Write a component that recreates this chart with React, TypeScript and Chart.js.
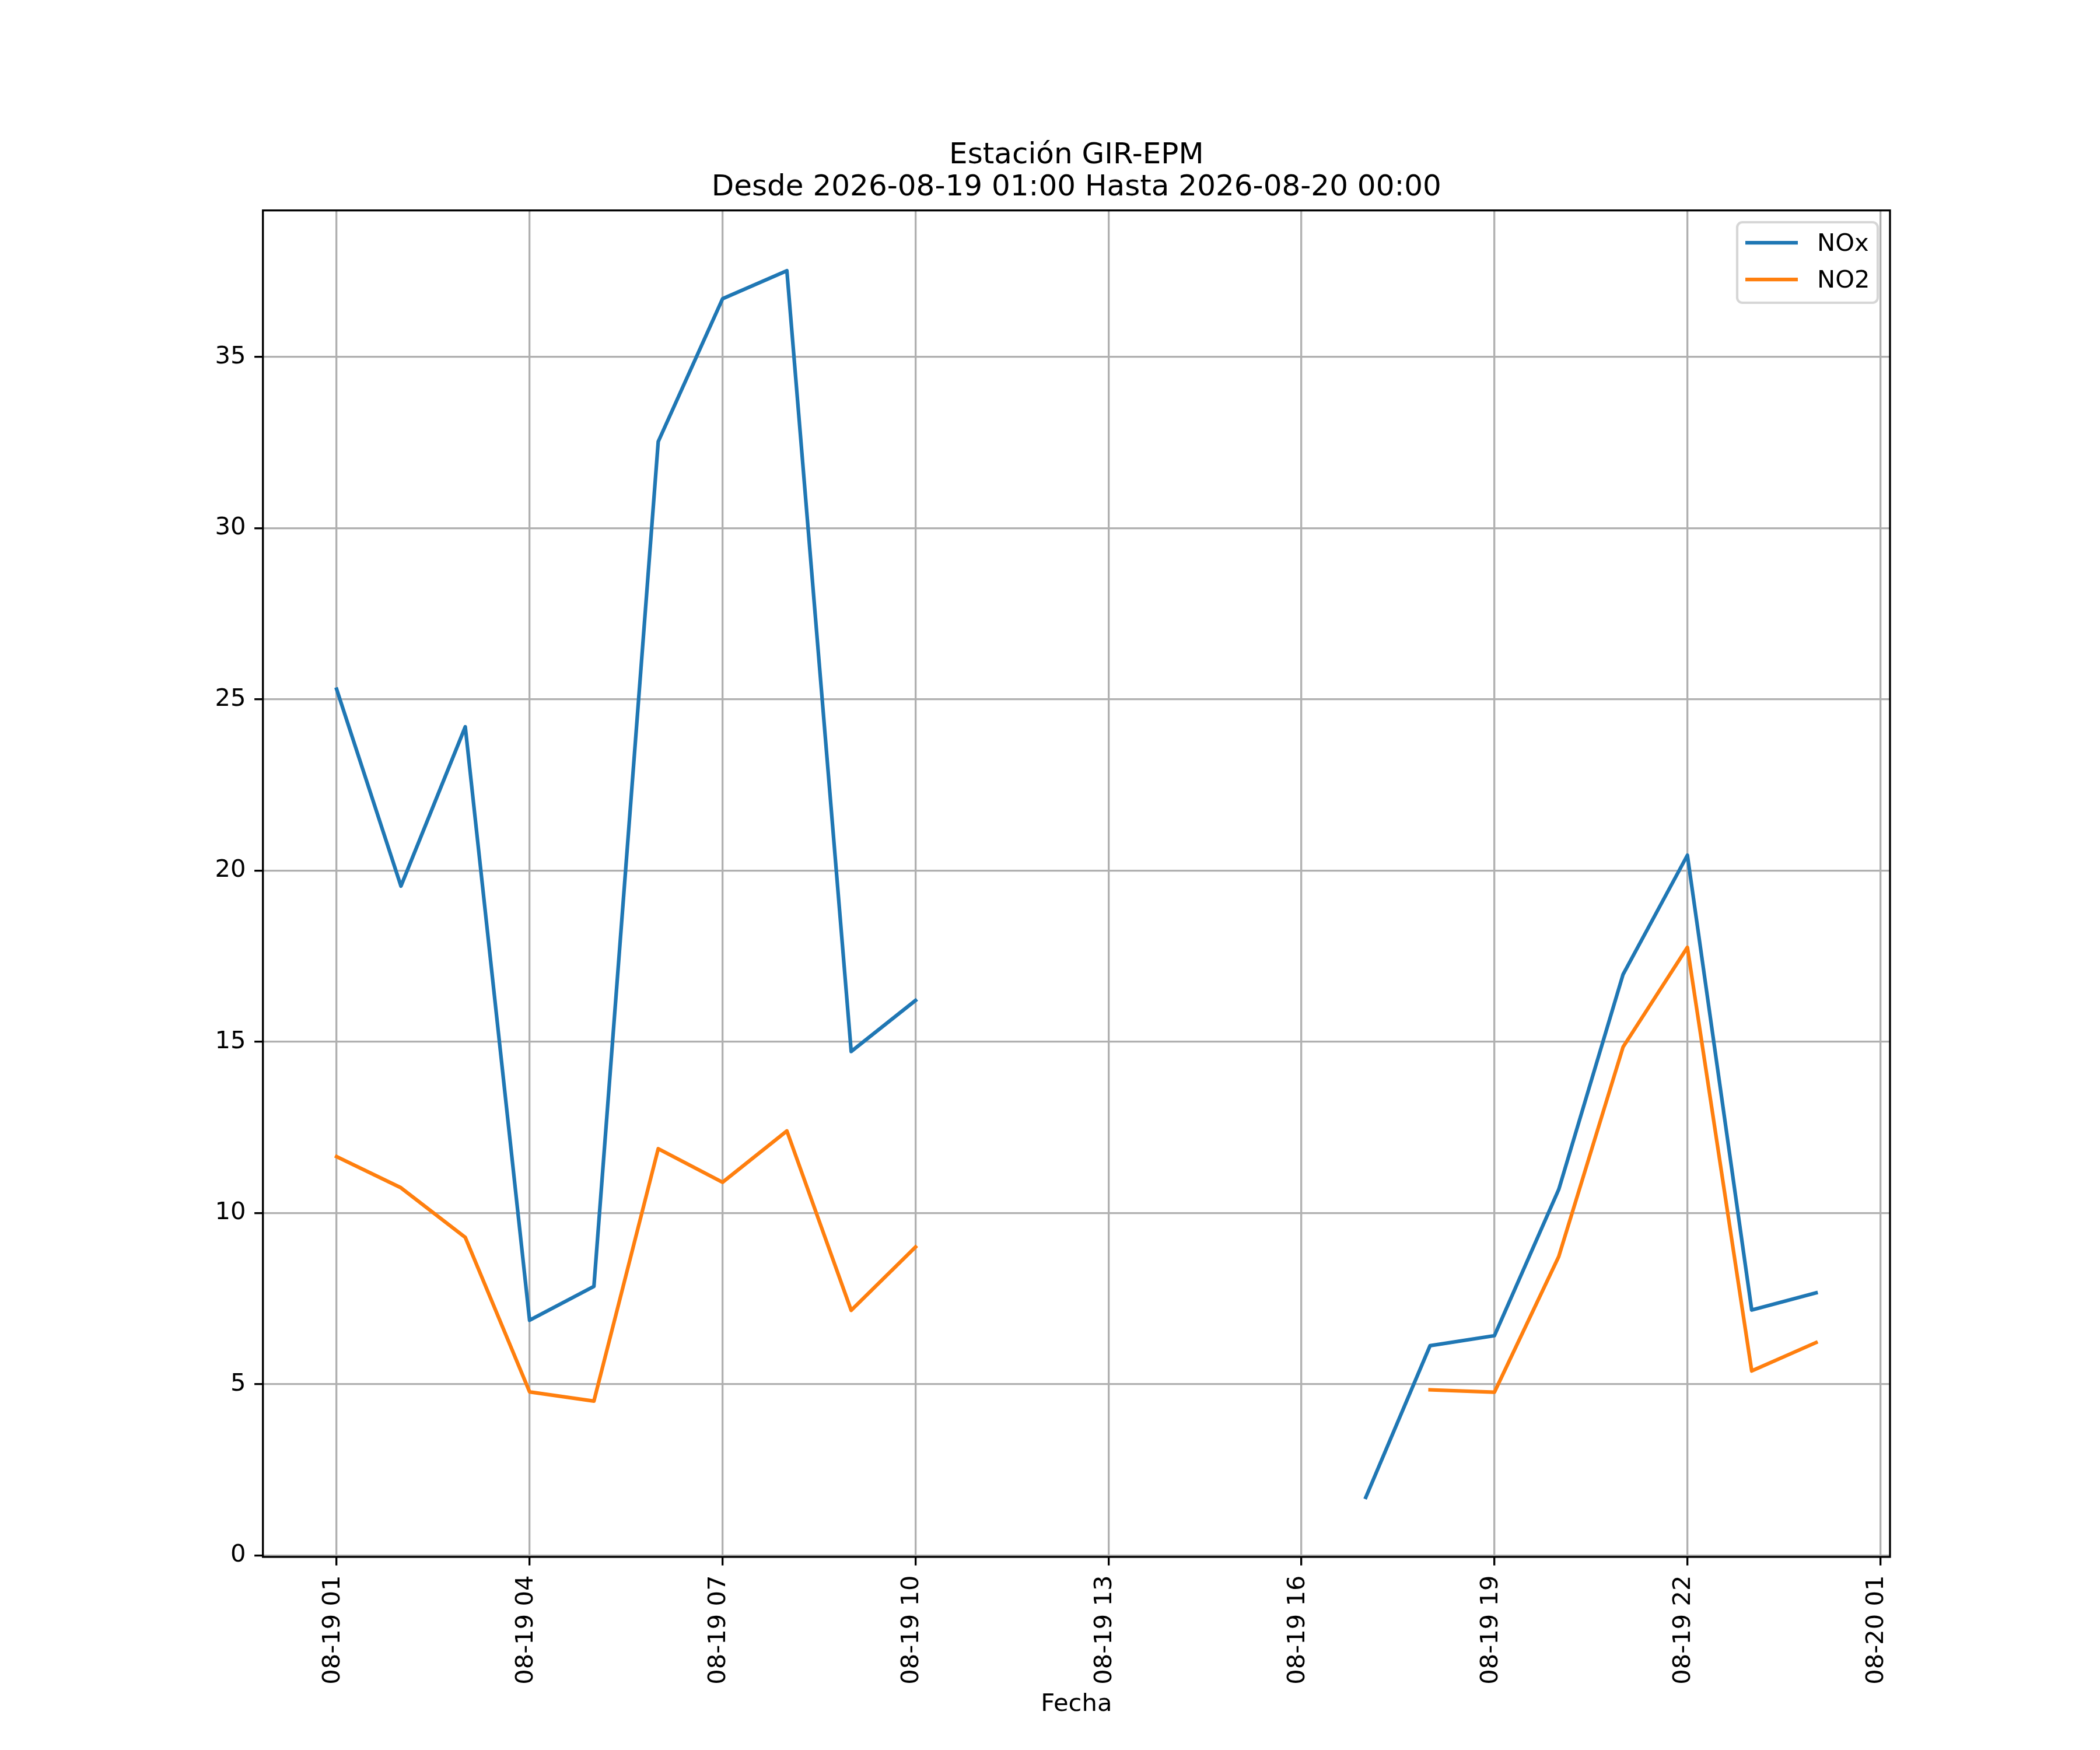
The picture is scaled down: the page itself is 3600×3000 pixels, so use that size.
import { useEffect, useRef } from "react"
import Chart from "chart.js/auto"

// Horas del día 19 (24 = 2026-08-20 00:00)
const horas = [1, 2, 3, 4, 5, 6, 7, 8, 9, 10, 11, 12, 13, 14, 15, 16, 17, 18, 19, 20, 21, 22, 23, 24]

const nox = [
  25.3, 19.55, 24.2, 6.87, 7.86, 32.53, 36.7, 37.52, 14.72, 16.21,
  null, null, null, null, null, null,
  1.7, 6.13, 6.42, 10.69, 16.97, 20.45, 7.17, 7.67,
]

const no2 = [
  11.65, 10.74, 9.29, 4.78, 4.51, 11.88, 10.9, 12.4, 7.16, 9.01,
  null, null, null, null, null, null, null,
  4.84, 4.77, 8.73, 14.85, 17.76, 5.39, 6.22,
]

const tickHoras = [1, 4, 7, 10, 13, 16, 19, 22, 25]
const tickEtiquetas = [
  "08-19 01", "08-19 04", "08-19 07", "08-19 10", "08-19 13",
  "08-19 16", "08-19 19", "08-19 22", "08-20 01",
]
const yTicks = [0, 5, 10, 15, 20, 25, 30, 35]

const titulo = ["Estación GIR-EPM", "Desde 2026-08-19 01:00 Hasta 2026-08-20 00:00"]

const FUENTE = '"DejaVu Sans", sans-serif'
const PT = 300 / 72

// marco, título y leyenda al estilo matplotlib
const marcoPlugin = {
  id: "marco",
  afterDraw(chart: any) {
    const { ctx, chartArea: a } = chart
    ctx.save()

    ctx.strokeStyle = "#000"
    ctx.lineWidth = 0.8 * PT
    ctx.strokeRect(a.left, a.top, a.right - a.left, a.bottom - a.top)

    ctx.fillStyle = "#000"
    ctx.font = `${12 * PT}px ${FUENTE}`
    ctx.textAlign = "center"
    ctx.textBaseline = "alphabetic"
    const cx = (a.left + a.right) / 2
    ctx.fillText(titulo[0], cx, a.top - 80.7)
    ctx.fillText(titulo[1], cx, a.top - 25.7)

    // leyenda
    const bx = a.right - 262
    const by = a.top + 20.3
    ctx.beginPath()
    ctx.roundRect(bx, by, 241, 138, 9)
    ctx.fillStyle = "rgba(255,255,255,0.8)"
    ctx.fill()
    ctx.strokeStyle = "rgba(204,204,204,0.8)"
    ctx.lineWidth = 1 * PT
    ctx.stroke()

    ctx.font = `${10 * PT}px ${FUENTE}`
    ctx.textAlign = "left"
    chart.data.datasets.forEach((ds: any, i: number) => {
      const y = a.top + 55.3 + i * 63
      ctx.beginPath()
      ctx.moveTo(a.right - 248, y)
      ctx.lineTo(a.right - 158, y)
      ctx.strokeStyle = ds.borderColor
      ctx.lineWidth = 1.5 * PT
      ctx.lineCap = "butt"
      ctx.stroke()
      ctx.fillStyle = "#000"
      ctx.fillText(ds.label, a.right - 125, y + 14)
    })

    ctx.restore()
  },
}

export default function App() {
  const chartRef = useRef<HTMLCanvasElement>(null)
  const chartInstance = useRef<Chart | null>(null)

  useEffect(() => {
    if (!chartRef.current) return
    if (chartInstance.current) chartInstance.current.destroy()

    const ctx = chartRef.current.getContext("2d")
    if (!ctx) return

    chartInstance.current = new Chart(ctx, {
      type: "line",
      data: {
        datasets: [
          {
            label: "NOx",
            data: horas.map((h, i) => ({ x: h, y: nox[i] })),
            borderColor: "#1f77b4",
            borderWidth: 1.5 * PT,
            borderJoinStyle: "round",
            borderCapStyle: "square",
            pointRadius: 0,
            spanGaps: false,
            tension: 0,
          },
          {
            label: "NO2",
            data: horas.map((h, i) => ({ x: h, y: no2[i] })),
            borderColor: "#ff7f0e",
            borderWidth: 1.5 * PT,
            borderJoinStyle: "round",
            borderCapStyle: "square",
            pointRadius: 0,
            spanGaps: false,
            tension: 0,
          },
        ],
      },
      options: {
        responsive: false,
        devicePixelRatio: 1,
        animation: false,
        layout: { padding: { left: 0, top: 360.7, right: 360, bottom: 0 } },
        plugins: {
          legend: { display: false },
          title: { display: false },
          tooltip: { enabled: false },
        },
        scales: {
          x: {
            type: "linear",
            min: -0.146,
            max: 25.15,
            afterBuildTicks: (scale: any) => {
              scale.ticks = tickHoras.map((v) => ({ value: v }))
            },
            afterFit: (scale: any) => {
              scale.height = 331
            },
            ticks: {
              autoSkip: false,
              minRotation: 90,
              maxRotation: 90,
              padding: 17,
              labelOffset: -6,
              color: "#000",
              font: { family: FUENTE, size: 10 * PT },
              callback: (v: any) => tickEtiquetas[tickHoras.indexOf(Number(v))],
            },
            grid: {
              color: "#b0b0b0",
              lineWidth: 0.8 * PT,
              tickColor: "#000",
              tickWidth: 0.8 * PT,
              tickLength: 3.5 * PT,
            },
            border: { display: false },
            title: {
              display: true,
              text: "Fecha",
              color: "#000",
              font: { family: FUENTE, size: 10 * PT },
              padding: { top: 0, bottom: 52.4 },
            },
          },
          y: {
            type: "linear",
            min: -0.04,
            max: 39.28,
            afterBuildTicks: (scale: any) => {
              scale.ticks = yTicks.map((v) => ({ value: v }))
            },
            afterFit: (scale: any) => {
              scale.width = 450.7
            },
            ticks: {
              padding: 3.5 * PT,
              color: "#000",
              font: { family: FUENTE, size: 10 * PT },
              callback: (v: any) => String(v),
            },
            grid: {
              color: "#b0b0b0",
              lineWidth: 0.8 * PT,
              tickColor: "#000",
              tickWidth: 0.8 * PT,
              tickLength: 3.5 * PT,
            },
            border: { display: false },
          },
        },
      },
      plugins: [marcoPlugin],
    } as any)

    return () => {
      if (chartInstance.current) {
        chartInstance.current.destroy()
        chartInstance.current = null
      }
    }
  }, [])

  return (
    <div style={{ position: "absolute", left: 0, top: 0, width: 3600, height: 3000, background: "#fff" }}>
      <canvas ref={chartRef} width={3600} height={3000} style={{ display: "block" }}></canvas>
    </div>
  )
}
